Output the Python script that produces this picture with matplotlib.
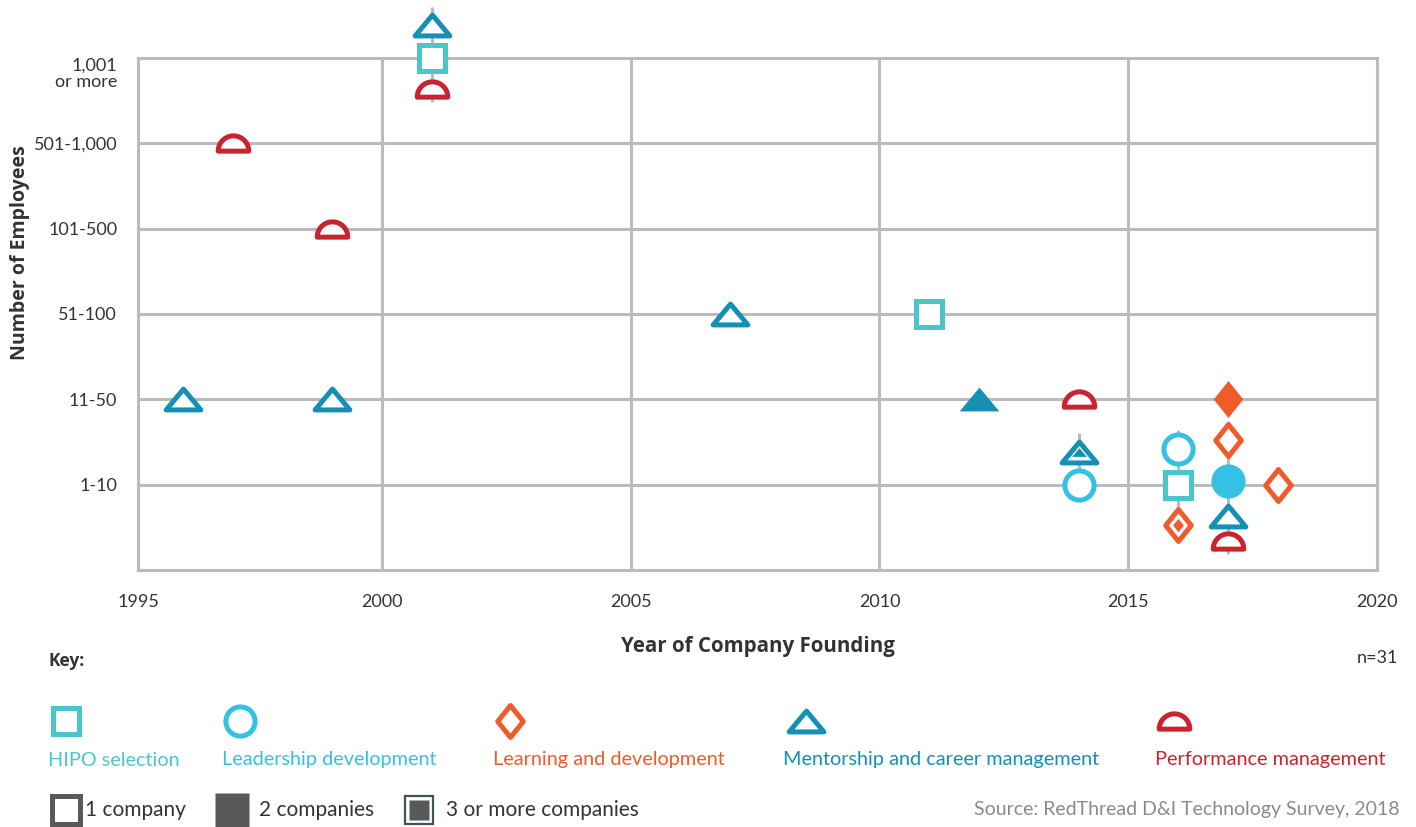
import numpy as np
import matplotlib.pyplot as plt
from matplotlib.path import Path

plt.rcParams['font.family'] = ['Lato', 'DejaVu Sans']

# size categories, bottom to top
size_labels = ['1-10', '11-50', '51-100', '101-500', '501-1,000', '1,001\nor more']
year_ticks = [1995, 2000, 2005, 2010, 2015, 2020]

# per series: founding year, size level (1 = "1-10"), stacking shift, number of companies
hipo_year = [2001, 2011, 2016]
hipo_level = [6, 3, 1]
hipo_shift = [0, 0, 0]
hipo_count = [1, 1, 1]

lead_year = [2014, 2016, 2017]
lead_level = [1, 1, 1]
lead_shift = [0, 0.42, 0.04]
lead_count = [1, 1, 2]

learn_year = [2016, 2017, 2017, 2018]
learn_level = [1, 2, 1, 1]
learn_shift = [-0.47, 0, 0.52, 0]
learn_count = [3, 2, 1, 1]

ment_year = [1996, 1999, 2001, 2007, 2012, 2014, 2017]
ment_level = [2, 2, 6, 3, 2, 1, 1]
ment_shift = [0, 0, 0.38, 0, 0, 0.38, -0.37]
ment_count = [1, 1, 1, 1, 2, 3, 1]

perf_year = [1997, 1999, 2001, 2014, 2017]
perf_level = [5, 4, 6, 2, 1]
perf_shift = [0, 0, -0.37, 0, -0.66]
perf_count = [1, 1, 1, 1, 1]

# marker shapes
tri = Path([(0, 0.6), (-1, -0.6), (1, -0.6), (0, 0.6)],
           [Path.MOVETO, Path.LINETO, Path.LINETO, Path.CLOSEPOLY])
dia = Path([(0, 1), (0.8, 0), (0, -1), (-0.8, 0), (0, 1)],
           [Path.MOVETO, Path.LINETO, Path.LINETO, Path.LINETO, Path.CLOSEPOLY])
t = np.linspace(0, np.pi, 40)
semi_v = np.column_stack([np.cos(t), np.sin(t) - 0.5])
semi_v = np.vstack([semi_v, semi_v[:1]])
semi = Path(semi_v, [Path.MOVETO] + [Path.LINETO] * (len(semi_v) - 2) + [Path.CLOSEPOLY])

series = [
    ('HIPO selection', '#4bc5c9', 's', 19, hipo_year, hipo_level, hipo_shift, hipo_count),
    ('Leadership development', '#35c1e4', 'o', 21, lead_year, lead_level, lead_shift, lead_count),
    ('Learning and development', '#f15a2b', dia, 23, learn_year, learn_level, learn_shift, learn_count),
    ('Mentorship and career management', '#1490b4', tri, 25, ment_year, ment_level, ment_shift, ment_count),
    ('Performance management', '#c8232f', semi, 22, perf_year, perf_level, perf_shift, perf_count),
]

grid_c = '#bcbbbb'
text_c = '#333333'

fig = plt.figure(figsize=(14.16, 8.27), dpi=100)
ax = fig.add_axes([0.0975, 0.3108, 0.875, 0.6192])
x0 = 1995.1   # left frame sits a touch right of 1995 in the original
ax.set_xlim(x0, 2020)
ax.set_ylim(0, 6)
ax.set_xticks([x0] + year_ticks[1:])
ax.set_xticklabels([str(y) for y in year_ticks])
ax.set_yticks(range(1, 7))
ax.set_yticklabels(size_labels)
ax.yaxis.get_ticklabels()[-1].set_verticalalignment('top')
ax.yaxis.get_ticklabels()[-1].set_linespacing(1.0)
ax.tick_params(length=0, labelsize=13, labelcolor=text_c)
ax.tick_params(axis='x', pad=17)
ax.tick_params(axis='y', pad=15)
ax.grid(True, color=grid_c, lw=2.2)
ax.set_axisbelow(True)
for s in ax.spines.values():
    s.set_color(grid_c)
    s.set_linewidth(2.2)
ax.set_xlabel('Year of Company Founding', fontsize=14.8, fontweight='bold', color=text_c,
              family=['Open Sans', 'DejaVu Sans'])
ax.xaxis.set_label_coords(0.5, -0.128)
ax.set_ylabel('Number of Employees', fontsize=14, fontweight='bold', color=text_c,
              family=['Open Sans', 'DejaVu Sans'])
ax.yaxis.set_label_coords(-0.0875, 0.62)

# connector lines for stacked markers in the same cell
cells = {}
for _, _, _, _, yrs, lvls, shs, _ in series:
    for x, lv, sh in zip(yrs, lvls, shs):
        cells.setdefault((x, lv), []).append(lv + sh)
for (x, lv), ys in cells.items():
    if len(ys) > 1:
        ax.plot([x, x], [min(ys) - 0.15, max(ys) + 0.22], color=grid_c, lw=2.2,
                zorder=1.5, clip_on=False, solid_capstyle='butt')

for name, col, mk, ms, yrs, lvls, shs, cnt in series:
    for x, lv, sh, c in zip(yrs, lvls, shs, cnt):
        y = lv + sh
        if c == 1:
            ax.plot(x, y, marker=mk, ms=ms, mfc='white', mec=col, mew=3.6,
                    ls='none', zorder=3, clip_on=False)
        elif c == 2:
            ax.plot(x, y, marker=mk, ms=ms + 3.6, mfc=col, mec='none',
                    ls='none', zorder=3, clip_on=False)
        else:
            ax.plot(x, y, marker=mk, ms=ms, mfc='white', mec=col, mew=3.6,
                    ls='none', zorder=3, clip_on=False)
            ax.plot(x, y, marker=mk, ms=ms * 0.42, mfc=col, mec='none',
                    ls='none', zorder=4, clip_on=False)

# key
fig.text(48 / 1416, 1 - 661 / 827, 'Key:', fontsize=12.5, fontweight='bold', color=text_c,
         va='center', family=['Open Sans', 'DejaVu Sans'])
fig.text(1398 / 1416, 1 - 658 / 827, 'n=31', fontsize=13, color=text_c, va='center', ha='right')

key = fig.add_axes([0, 0, 1, 1], facecolor='none')
key.set_xlim(0, 1)
key.set_ylim(0, 1)
key.axis('off')
mark_x = [66, 240, 510, 806, 1174]
label_x = [48, 222, 493, 783, 1155]
for (name, col, mk, ms, *_), mx, lx in zip(series, mark_x, label_x):
    key.plot(mx / 1416, 1 - 721 / 827, marker=mk, ms=ms, mfc='white', mec=col,
             mew=3.6, ls='none')
    key.text(lx / 1416, 1 - 760 / 827, name, fontsize=14.3, color=col, va='center')

dark = '#58595b'
key.plot(66 / 1416, 1 - 810 / 827, marker='s', ms=20, mfc='white', mec=dark, mew=3.6, ls='none')
key.text(85 / 1416, 1 - 810 / 827, '1 company', fontsize=15, color=text_c, va='center')
key.plot(232 / 1416, 1 - 810 / 827, marker='s', ms=24, mfc=dark, mec='none', ls='none')
key.text(259 / 1416, 1 - 810 / 827, '2 companies', fontsize=15, color=text_c, va='center')
key.plot(419 / 1416, 1 - 810 / 827, marker='s', ms=20, mfc='white', mec='#3e5457', mew=1.6, ls='none')
key.plot(419 / 1416, 1 - 810 / 827, marker='s', ms=15, mfc=dark, mec='none', ls='none')
key.text(446 / 1416, 1 - 810 / 827, '3 or more companies', fontsize=15, color=text_c, va='center')
key.text(1400 / 1416, 1 - 810 / 827, 'Source: RedThread D&I Technology Survey, 2018',
         fontsize=14, color='#8a8a8a', va='center', ha='right')

fig.savefig('out.png', dpi=100)
